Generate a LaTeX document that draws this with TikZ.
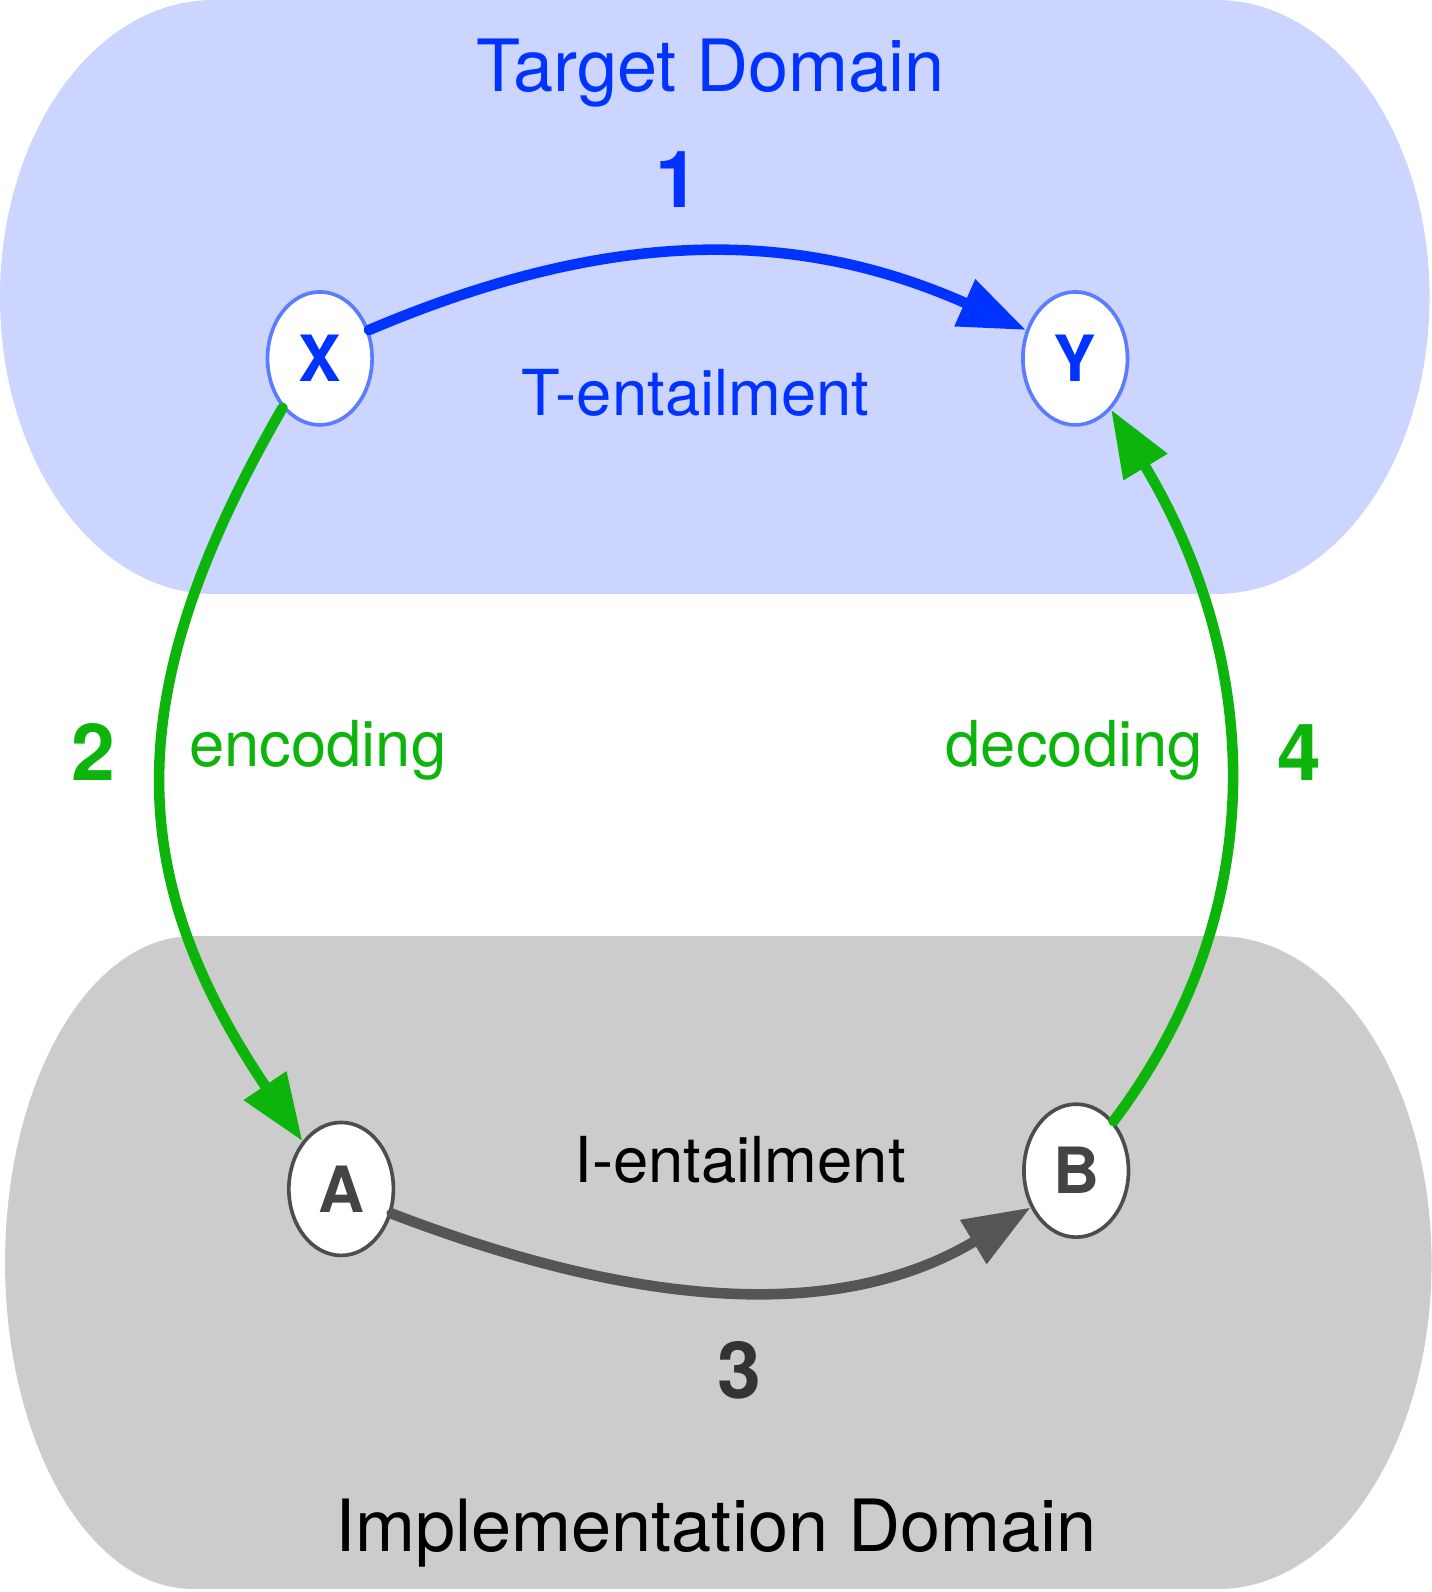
\documentclass[tikz,border=0pt]{standalone}
\usepackage{fontspec}
\setmainfont{TeX Gyre Heros}
\usetikzlibrary{arrows.meta, shapes.geometric}
\definecolor{tblue}{HTML}{0033FF}
\definecolor{tfill}{HTML}{CCD5FF}
\definecolor{tborder}{HTML}{5C7CFF}
\definecolor{egreen}{HTML}{0CB40C}
\definecolor{igray}{HTML}{555555}
\definecolor{ifill}{HTML}{CCCCCC}
\definecolor{iborder}{HTML}{4D4D4D}
\definecolor{itext}{HTML}{444444}
\definecolor{inum}{HTML}{333333}
\tikzset{
  term node/.style={
    ellipse,
    draw,
    fill=white,
    line width=0.9pt,
    minimum width=25.75pt,
    minimum height=32.75pt,
    inner sep=0pt,
    font=\fontsize{15.7}{18}\selectfont\bfseries,
  },
  domain label/.style={anchor=base, font=\fontsize{17.75}{20}\selectfont},
  map label/.style={anchor=base, font=\fontsize{15.6}{18}\selectfont},
  step label/.style={anchor=base, font=\fontsize{19.4}{22}\selectfont\bfseries},
  map arrow/.style={line width=2.6pt, line cap=round, -{Triangle[length=16.5pt, width=12pt]}},
}

\begin{document}
\begin{tikzpicture}[x=0.25pt, y=0.25pt]
        \useasboundingbox (0,0) rectangle (1410.4,-1568);

        % the two domains
        \fill[tfill] (210,0) -- (1198,0)
          arc[start angle=90, end angle=-90, x radius=210, y radius=292.5]
          -- (210,-585)
          arc[start angle=270, end angle=90, x radius=210, y radius=292.5] -- cycle;
        \fill[ifill] (190,-922) -- (1200,-922)
          arc[start angle=90, end angle=-90, x radius=210, y radius=321.5]
          -- (190,-1565)
          arc[start angle=270, end angle=90, x radius=185, y radius=321.5] -- cycle;

        \node[domain label, tblue] (tdom) at (700,-90)   {Target Domain};
        \node[domain label]        (idom) at (705,-1528) {Implementation Domain};

        \node[term node, draw=tborder, text=tblue] (X) at (315,-353)  {X};
        \node[term node, draw=tborder, text=tblue] (Y) at (1059,-353) {Y};
        \node[term node, draw=iborder, text=itext] (A) at (336,-1171) {A};
        \node[term node, draw=iborder, text=itext] (B) at (1060,-1153) {B};

        \node[map label, tblue]  (tent) at (685,-409)  {T-entailment};
        \node[map label]         (ient) at (729,-1165) {I-entailment};
        \node[map label, egreen] (enc)  at (313,-755)  {encoding};
        \node[map label, egreen] (dec)  at (1058,-755) {decoding};

        \node[step label, tblue]  (n1) at (667,-204)  {1};
        \node[step label, egreen] (n2) at (92,-769)   {2};
        \node[step label, inum]   (n3) at (728,-1377) {3};
        \node[step label, egreen] (n4) at (1280,-769) {4};

        \draw[map arrow, tblue]  (X.30)  to[out=23, in=156] (Y.150);
        \draw[map arrow, egreen] (X.233) to[out=240, in=124, looseness=1.13] (A.129);
        \draw[map arrow, igray]  (A.-26) to[out=-21, in=211, looseness=0.95] (B.219);
        \draw[map arrow, egreen] (B.53)  to[out=53, in=-59] (Y.-55);
\end{tikzpicture}
\end{document}
